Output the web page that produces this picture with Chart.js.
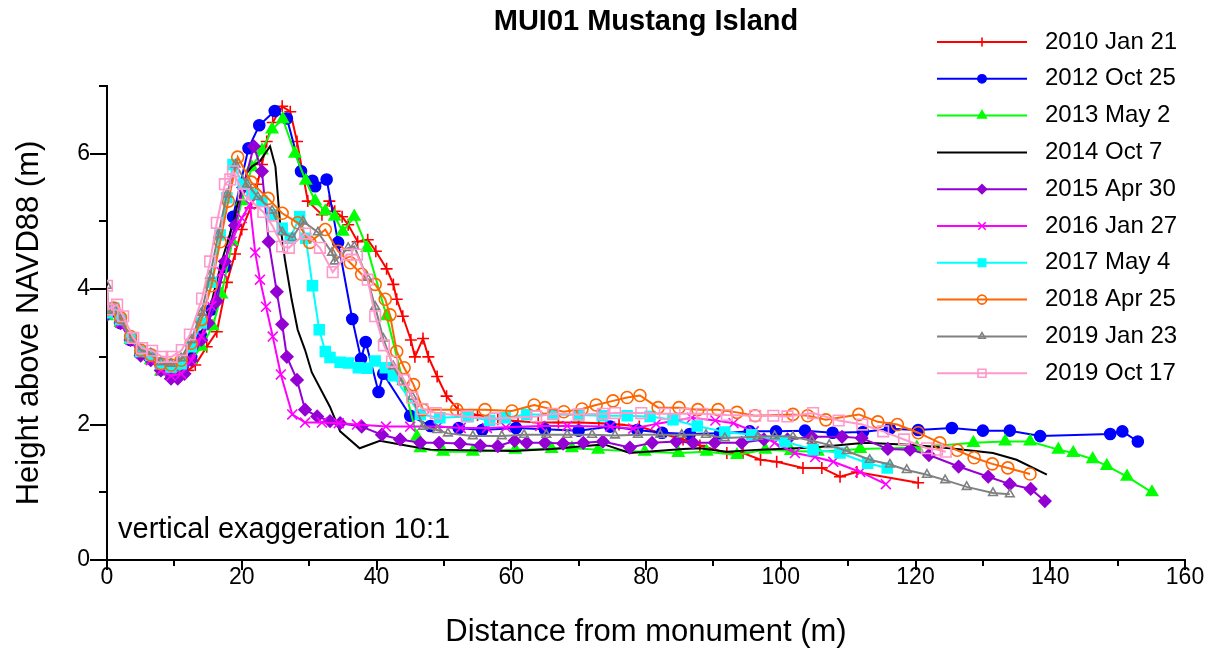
<!DOCTYPE html>
<html>
<head>
<meta charset="utf-8">
<title>MUI01 Mustang Island</title>
<script src="https://cdn.jsdelivr.net/npm/chart.js@4.4.1/dist/chart.umd.min.js"></script>
<style>
  html, body { margin: 0; padding: 0; background: #fff; }
  canvas { display: block; }
</style>
</head>
<body>
<canvas id="profiles" width="1220" height="654"></canvas>
<script>
// survey dates, legend order
const surveys = ["2010 Jan 21", "2012 Oct 25", "2013 May 2", "2014 Oct 7", "2015 Apr 30",
  "2016 Jan 27", "2017 May 4", "2018 Apr 25", "2019 Jan 23", "2019 Oct 17"];

// [distance from monument (m), height above NAVD88 (m)]
const p2010 = [[0,3.67],[1,3.7],[2,3.52],[3.5,3.25],[5,3.05],[6.5,2.95],[8,2.8],[9.5,2.72],[11,2.74],[12,2.8],
  [13.1,2.88],[14.8,3.15],[16.3,3.37],[17.8,4.1],[19,4.52],[20,4.88],[21.3,5.2],[22.3,5.55],[23,5.84],[23.7,6.18],
  [24.6,6.46],[26,6.7],[27.2,6.62],[28.2,6.18],[29.8,5.3],[31.9,5.1],[33,5.3],[33.8,5.15],[34.9,5.07],[35.8,4.95],
  [37.2,4.7],[38.7,4.73],[39.9,4.56],[41.5,4.3],[42.5,4.07],[43,3.85],[43.9,3.6],[45.1,3.25],[45.7,3.0],[46.9,3.27],
  [47.7,3.0],[49,2.71],[50.4,2.42],[52.1,2.22],[55,2.14],[58,2.08],[61,2.05],[64,2.03],[67,2.03],[70,2.03],
  [73,2.02],[76,2.0],[79,1.97],[82,1.88],[85.5,1.78],[88,1.69],[92,1.58],[94.4,1.58],[97,1.48],[99.4,1.45],
  [103.3,1.36],[106.1,1.36],[108.8,1.23],[111.3,1.3],[120.4,1.14]];
const p2012 = [[0,3.65],[1,3.7],[2,3.5],[3.5,3.25],[5,3.05],[6.5,2.98],[8,2.85],[9.5,2.75],[11,2.8],[12.5,3.0],
  [14,3.3],[15.5,3.7],[17.5,4.33],[18.7,5.07],[21,6.08],[22.6,6.42],[24.9,6.63],[26.7,6.52],[28.8,5.74],[30.5,5.6],
  [30.9,5.52],[32.6,5.62],[34.3,4.69],[36.4,3.56],[37.7,2.97],[38.4,3.22],[40.3,2.48],[41,2.75],[45,2.13],[48,1.98],
  [52.2,1.95],[55.7,1.92],[60.7,1.95],[65,1.93],[70,1.91],[74.7,1.97],[78.7,1.92],[82.4,1.88],[86.5,1.86],[91,1.87],
  [95.4,1.9],[99.3,1.9],[103.6,1.91],[107.7,1.88],[112.2,1.89],[116.2,1.94],[120.4,1.92],[125.4,1.95],[130,1.91],
  [134,1.91],[138.5,1.83],[148.9,1.86],[150.7,1.9],[153,1.75]];
const p2013 = [[0,3.6],[1,3.68],[2,3.5],[3.5,3.25],[5,3.05],[6.5,2.95],[8,2.78],[9.5,2.72],[11,2.78],[12.5,2.95],
  [14,3.15],[15.7,3.45],[17,3.92],[18.6,4.7],[20,5.3],[21.5,5.8],[23,6.05],[24.5,6.36],[26.1,6.51],[27.9,6.0],
  [29.5,5.6],[30.9,5.3],[32.4,5.15],[33.8,5.07],[35,4.85],[36.7,5.07],[38.6,4.61],[41.5,3.6],[46,1.82],[46.5,1.65],
  [49.9,1.6],[54.3,1.6],[60.6,1.63],[66,1.64],[69,1.65],[72.9,1.63],[79.8,1.6],[84.8,1.58],[89,1.6],[93.5,1.55],
  [97.7,1.63],[101.5,1.61],[105.5,1.6],[111.8,1.64],[120.2,1.66],[128.6,1.73],[133.3,1.75],[137,1.75],[141.2,1.63],
  [143.4,1.58],[146.3,1.49],[148.4,1.39],[151.4,1.23],[155.1,1.0]];
const p2014 = [[0,3.62],[1,3.7],[2,3.5],[3.5,3.25],[5,3.08],[6.5,2.98],[8,2.85],[9.5,2.8],[11,2.85],[12.5,3.05],
  [14,3.35],[15.5,3.8],[17,4.4],[18.5,4.9],[19.5,5.3],[20.8,5.72],[21.5,5.81],[22.7,5.89],[24.2,6.11],[25,5.81],
  [25.7,4.96],[26.4,4.44],[27.4,3.85],[28.3,3.4],[29.4,3.1],[30.4,2.77],[33.1,2.26],[34.6,1.9],[37.5,1.65],[40.5,1.76],
  [45,1.68],[48,1.63],[60.3,1.61],[66,1.64],[72.7,1.7],[74,1.7],[77.6,1.58],[85.5,1.64],[88,1.65],[92,1.6],
  [97,1.63],[105,1.66],[112.5,1.73],[119.7,1.7],[125.1,1.65],[131.5,1.58],[135,1.48],[139.5,1.26]];
const p2015 = [[0,3.62],[1,3.68],[2,3.5],[3.5,3.25],[5,3.02],[6.5,2.95],[8,2.8],[9.5,2.68],[10.5,2.68],[11.5,2.75],
  [12.5,2.95],[14,3.25],[15,3.5],[16.3,3.82],[17.5,4.41],[19,4.94],[20.2,5.5],[21.8,6.11],[23,5.74],[24,4.7],
  [25.2,3.96],[26,3.48],[26.7,3.0],[28.2,2.66],[29.4,2.22],[31.2,2.12],[33.1,2.05],[34.6,2.02],[37.8,1.97],[40.8,1.85],
  [43.5,1.78],[46.5,1.73],[49.3,1.73],[52.4,1.72],[55.4,1.69],[58,1.68],[60.5,1.76],[62.3,1.73],[65,1.73],[67.7,1.72],
  [70.7,1.73],[73.6,1.75],[77.6,1.66],[80.9,1.73],[84.5,1.75],[87,1.73],[90.2,1.73],[94.2,1.73],[97.5,1.78],[101,1.78],
  [104.6,1.82],[109.1,1.82],[112,1.8],[115.9,1.64],[119.2,1.63],[122,1.55],[126.4,1.38],[130.8,1.23],[134,1.12],
  [137.1,1.05],[139.2,0.87]];
const p2016 = [[0,3.65],[1,3.7],[2,3.5],[3.5,3.25],[5,3.05],[6.5,2.95],[8,2.8],[9.5,2.72],[11,2.75],[12.5,2.95],
  [14,3.3],[15.5,3.75],[17,4.25],[18.5,4.7],[20,5.05],[21.2,5.25],[22,4.54],[22.7,4.14],[23.6,3.74],[24.6,3.3],
  [25.8,2.74],[27.5,2.15],[29.4,2.03],[31.9,2.03],[34.4,2.02],[37.1,2.0],[41.4,1.97],[45,1.97],[49.1,1.97],[52.5,1.95],
  [56.4,1.95],[59.2,1.96],[64.3,1.98],[68.3,1.98],[74.7,1.97],[78.1,1.94],[81.5,2.01],[86.8,2.1],[90.3,2.06],[93,2.02],
  [96,1.9],[99.1,1.73],[102.1,1.58],[105.1,1.52],[107.8,1.45],[111.8,1.3],[115.6,1.12]];
const p2017 = [[0,3.65],[1,3.72],[2,3.55],[3.5,3.28],[5,3.08],[6.5,3.02],[8,2.9],[9.5,2.85],[11,2.9],[12.5,3.15],
  [14,3.5],[15.5,4.1],[16.8,4.8],[17.8,5.35],[18.7,5.84],[20.2,5.55],[21.5,5.4],[23,5.3],[24.5,5.1],[26,4.9],
  [27.2,4.75],[28.6,5.07],[29.5,4.75],[30.5,4.05],[31.5,3.4],[32.4,3.08],[33.1,2.99],[34.6,2.92],[35.8,2.91],[37.3,2.84],
  [38.6,2.83],[39.8,2.94],[41.3,2.84],[42.5,2.72],[46.5,2.15],[49.4,2.1],[53.6,2.12],[56.8,2.06],[59.1,2.1],[62.3,2.15],
  [66.2,2.15],[70,2.14],[73.5,2.13],[77.2,2.13],[80.6,2.12],[84,2.07],[87.6,1.98],[91.7,1.89],[95.7,1.85],[100.6,1.75],
  [104.8,1.63],[108.8,1.58],[112.9,1.43],[115.8,1.36]];
const p2018 = [[0,3.7],[1,3.72],[2,3.58],[3.5,3.3],[5,3.1],[6.5,3.03],[8,2.9],[9.5,2.88],[11,2.95],[12.5,3.2],
  [14,3.55],[15.5,4.05],[16.8,4.7],[18,5.3],[19.4,5.95],[21.4,5.58],[23.9,5.34],[26,5.12],[28.3,4.98],[30.1,4.69],
  [32.4,4.88],[34.3,4.56],[36.1,4.39],[37.8,4.22],[39.8,4.07],[41.3,3.85],[42,3.62],[43,3.08],[44.1,2.84],[45.5,2.59],
  [46.9,2.22],[51.9,2.22],[56.1,2.22],[60.1,2.2],[63.4,2.29],[65,2.25],[67.8,2.19],[70.5,2.23],[72.6,2.29],[75.1,2.35],
  [77.2,2.4],[79.1,2.43],[81.8,2.25],[84.9,2.25],[87.7,2.22],[90.7,2.22],[93.5,2.18],[96.2,2.13],[101.8,2.15],[104,2.13],
  [106.7,2.07],[111.6,2.15],[114.4,2.04],[117.3,2.0],[120.4,1.88],[123.6,1.73],[126.2,1.62],[128.7,1.51],[131.4,1.42],
  [133.7,1.36],[137,1.27]];
const p2019a = [[0,4.05],[0.2,3.68],[1,3.72],[2,3.55],[3.5,3.28],[5,3.1],[6.5,3.05],[8,2.92],[9.5,2.9],[11,2.98],
  [12.5,3.25],[14,3.65],[15.3,4.2],[16.5,4.8],[17.8,5.4],[19.1,5.84],[20.8,5.55],[22.4,5.36],[24.5,5.16],[26,4.84],
  [27.5,4.76],[29.1,5.0],[31.3,4.84],[33.4,4.54],[33.8,4.41],[35.8,4.61],[36.7,4.63],[38.6,4.17],[39.8,3.74],[41,3.27],
  [42.5,2.86],[43.8,2.63],[45.3,2.41],[46.9,1.97],[49,1.92],[50.6,1.87],[54.3,1.83],[58.6,1.83],[61.9,1.85],[65.2,1.85],
  [68.3,1.85],[72,1.85],[75.4,1.84],[78.8,1.85],[82.1,1.85],[85.3,1.85],[88.9,1.85],[91.7,1.8],[96.6,1.82],[99.1,1.83],
  [101.8,1.82],[104.6,1.76],[107.2,1.7],[109.8,1.61],[113.2,1.48],[116.2,1.41],[118.7,1.33],[121.7,1.26],[124.4,1.18],
  [127.6,1.08],[131.5,0.99],[134,0.97]];
const p2019b = [[0,4.05],[0.2,3.7],[1.5,3.77],[2.4,3.6],[3.9,3.28],[5.2,3.13],[6.7,3.09],[8.2,3.0],[9.6,3.0],[11.1,3.1],
  [12.3,3.33],[14.1,3.86],[15.3,4.41],[16.3,4.98],[17.5,5.55],[18.3,5.62],[18.7,5.74],[20.3,5.4],[23.2,5.14],[24.6,4.93],
  [26,4.63],[27,4.61],[29.4,4.82],[31.6,4.61],[33.5,4.25],[35.6,4.51],[37.1,4.51],[38.7,4.14],[39.8,3.6],[41.1,3.17],
  [42.3,2.93],[44.1,2.66],[45.3,2.4],[46.8,2.23],[48.8,2.17],[53.4,2.12],[57.6,2.09],[63.7,2.12],[66.2,2.16],[70,2.15],
  [73.6,2.16],[75.4,2.17],[79.3,2.17],[82.8,2.16],[85.8,2.16],[88.3,2.16],[92,2.14],[96.2,2.13],[98.9,2.13],[101,2.12],
  [104.8,2.17],[108.6,2.06],[112.1,2.0],[115.2,1.9],[118.3,1.78],[121.7,1.65],[123.2,1.63],[124.5,1.6]];

const xTicks = [0, 20, 40, 60, 80, 100, 120, 140, 160];
const yTicks = [0, 2, 4, 6];

// styles
const FONT = '"Liberation Sans", Arial, Helvetica, sans-serif';
const profiles = [p2010, p2012, p2013, p2014, p2015, p2016, p2017, p2018, p2019a, p2019b];
const colors = ["#ff0000", "#0000ff", "#00ff00", "#000000", "#9400d3", "#ff00ff", "#00ffff", "#ff6600", "#808080", "#ff99cc"];
const markers = ["cross", "circle", "triangle", false, "rectRot", "crossRot", "rect", "circle", "triangle", "rect"];
const markerSize = [6, 5.5, 6.5, 0, 6, 7, 7, 6, 5, 7.5];
const filled = [true, true, true, true, true, true, true, false, false, false];

const datasets = profiles.map((pts, i) => ({
  label: surveys[i],
  data: pts.map(([x, y]) => ({ x, y })),
  borderColor: colors[i],
  backgroundColor: filled[i] ? colors[i] : "rgba(0,0,0,0)",
  borderWidth: 2,
  pointStyle: markers[i],
  pointRadius: markerSize[i],
  pointBorderWidth: 1.6,
  pointBorderColor: colors[i],
  pointBackgroundColor: filled[i] ? colors[i] : "rgba(0,0,0,0)",
  tension: 0,
  order: profiles.length - i,
}));

// title, axis titles, outward tick marks, legend and note
const decorations = {
  id: "decorations",
  afterDraw(chart) {
    const { ctx, chartArea: area, scales } = chart;
    const sx = scales.x, sy = scales.y;
    ctx.save();
    ctx.strokeStyle = "#000";
    ctx.lineWidth = 2;
    ctx.beginPath();
    for (let v = 0; v <= 7; v++) {
      const py = Math.round(sy.getPixelForValue(v));
      const len = v % 2 === 0 ? 17 : 8;
      ctx.moveTo(area.left - len, py);
      ctx.lineTo(area.left, py);
    }
    for (let v = 0; v <= 160; v += 10) {
      const px = Math.round(sx.getPixelForValue(v));
      const len = v % 20 === 0 ? 10 : 6;
      ctx.moveTo(px, area.bottom);
      ctx.lineTo(px, area.bottom + len);
    }
    ctx.stroke();

    ctx.fillStyle = "#000";
    ctx.textBaseline = "middle";
    ctx.textAlign = "center";
    ctx.font = "bold 29px " + FONT;
    ctx.fillText("MUI01 Mustang Island", (area.left + area.right) / 2, 22);

    ctx.font = "31px " + FONT;
    ctx.fillText("Distance from monument (m)", (area.left + area.right) / 2, 632);
    ctx.save();
    ctx.translate(29, (area.top + area.bottom) / 2);
    ctx.rotate(-Math.PI / 2);
    ctx.fillText("Height above NAVD88 (m)", 0, 0);
    ctx.restore();

    ctx.textAlign = "left";
    ctx.font = "29px " + FONT;
    ctx.fillText("vertical exaggeration 10:1", 118, 530);

    // legend
    ctx.font = "24px " + FONT;
    chart.data.datasets.forEach((ds, i) => {
      const y = 42 + i * 36.8;
      ctx.strokeStyle = ds.borderColor;
      ctx.lineWidth = 2;
      ctx.beginPath();
      ctx.moveTo(937, y);
      ctx.lineTo(1027, y);
      ctx.stroke();
      if (ds.pointStyle) {
        ctx.fillStyle = ds.pointBackgroundColor;
        ctx.lineWidth = 1.6;
        Chart.helpers.drawPoint(ctx, {
          pointStyle: ds.pointStyle, rotation: 0,
          radius: ds.pointRadius * 0.75, borderWidth: 1.6
        }, 982, y);
      }
      ctx.fillStyle = "#000";
      ctx.fillText(ds.label, 1045, y);
    });
    ctx.restore();
  }
};

new Chart(document.getElementById("profiles"), {
  type: "line",
  data: { datasets },
  options: {
    responsive: false,
    animation: false,
    layout: { padding: { top: 86, right: 35, left: 0, bottom: 0 } },
    plugins: {
      legend: { display: false },
      title: { display: false },
      tooltip: { enabled: false },
    },
    scales: {
      x: {
        type: "linear",
        min: 0,
        max: 160,
        afterBuildTicks: (s) => { s.ticks = xTicks.map((v) => ({ value: v })); },
        afterFit: (s) => { s.height = 94; },
        ticks: { padding: 4, color: "#000", font: { family: FONT, size: 23 } },
        grid: { display: false, drawTicks: false },
        border: { display: true, color: "#000", width: 2 },
      },
      y: {
        type: "linear",
        min: 0,
        max: 7,
        afterBuildTicks: (s) => { s.ticks = yTicks.map((v) => ({ value: v })); },
        afterFit: (s) => { s.width = 107; },
        ticks: { padding: 17, color: "#000", font: { family: FONT, size: 23 } },
        grid: { display: false, drawTicks: false },
        border: { display: true, color: "#000", width: 2 },
      },
    },
  },
  plugins: [decorations],
});
</script>
</body>
</html>
